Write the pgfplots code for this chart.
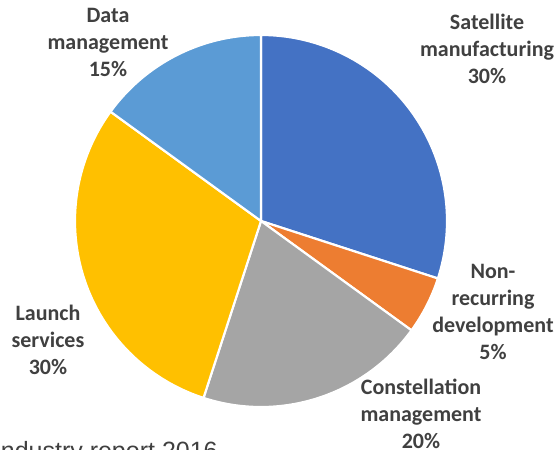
\documentclass[border=0pt]{standalone}
\usepackage{pgfplots}
\pgfplotsset{compat=1.18}
\usepackage{pgfplotstable}
\usepackage{fontspec}
\setmainfont{Carlito}
\newfontfamily\reportfont{Liberation Sans}

\definecolor{satblue}{HTML}{4472C4}
\definecolor{nrorange}{HTML}{ED7D31}
\definecolor{congray}{HTML}{A5A5A5}
\definecolor{launchyellow}{HTML}{FFC000}
\definecolor{datablue}{HTML}{5B9BD5}
\definecolor{labelgray}{HTML}{404040}

% shares in percent, clockwise from 12 o'clock
\pgfplotstableread{
value colour
30 satblue
5  nrorange
20 congray
30 launchyellow
15 datablue
}\piedata

\tikzset{lbl/.style={font=\bfseries\fontsize{13.2}{16.2}\selectfont, text=labelgray, align=center}}

\begin{document}
\begin{tikzpicture}
\begin{axis}[
    scale only axis,
    width=333.6pt, height=269.4pt,
    xmin=0, xmax=556, ymin=0, ymax=449,
    hide axis,
    clip=false,
]
\def\startang{90}
\pgfplotsforeachungrouped \i in {0,...,4}{%
  \pgfplotstablegetelem{\i}{value}\of\piedata \let\v\pgfplotsretval
  \pgfplotstablegetelem{\i}{colour}\of\piedata \let\c\pgfplotsretval
  \pgfmathsetmacro\endang{\startang-3.6*\v}%
  \edef\temp{\noexpand\fill[\c, draw=white, line width=1.3pt, line join=round]
    (axis cs:261,228) -- ([shift={(\startang:111.6pt)}]axis cs:261,228)
    arc[start angle=\startang, end angle=\endang, radius=111.6pt] -- cycle;}%
  \temp
  \global\let\startang\endang
}

\node[lbl] at (axis cs:108,407) {Data\\management\\15\%};
\node[lbl] at (axis cs:487,400) {Satellite\\manufacturing\\30\%};
\node[lbl] at (axis cs:493,137) {Non-\\recurring\\development\\5\%};
\node[lbl] at (axis cs:48,109) {Launch\\services\\30\%};
\node[lbl] at (axis cs:421,35) {Constellation\\management\\20\%};
\node[anchor=base east, inner sep=0pt, text=black!75, font=\reportfont\fontsize{15}{18}\selectfont]
  at (axis cs:218,-10) {Industry report 2016};
\end{axis}
\pgfresetboundingbox
\useasboundingbox (current axis.south west) rectangle (current axis.north east);
\end{tikzpicture}
\end{document}
